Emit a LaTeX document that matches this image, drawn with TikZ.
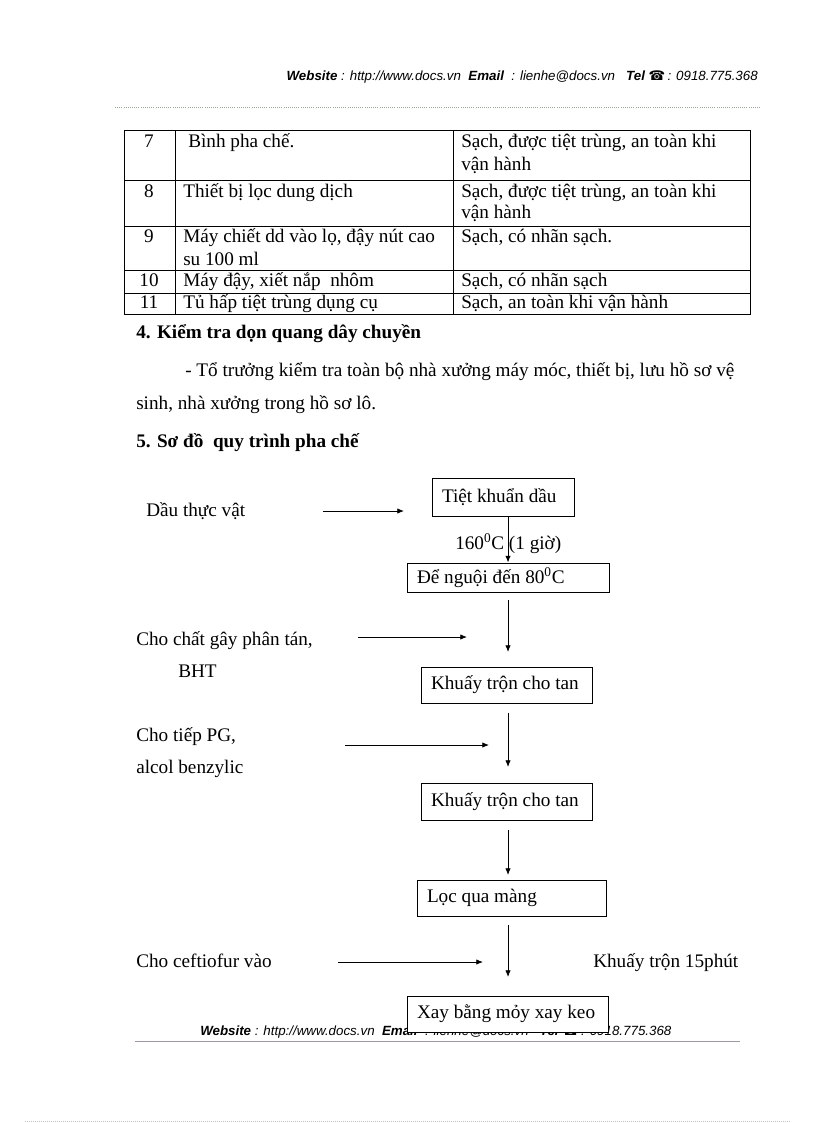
\documentclass[tikz,border=0pt]{standalone}
\usepackage{fontspec}
\setmainfont{Liberation Serif}
\newfontfamily\hdrfont{Liberation Sans}
\newfontfamily\symfont{DejaVu Sans}
\usetikzlibrary{arrows.meta}
\definecolor{rulegreen}{RGB}{150,170,150}
\definecolor{rulegray}{RGB}{160,150,165}
\newcommand{\hdrline}{{\hdrfont\itshape\fontsize{10}{12}\selectfont\textbf{Website} : http://www.docs.vn\ \ \textbf{Email}\ \ : lienhe@docs.vn\ \ \ \textbf{Tel}\ {\symfont\upshape ☎}\,: 0918.775.368}}
\newcommand{\bx}[2]{\makebox[#1][l]{#2}}
\begin{document}
\begin{tikzpicture}[x=0.75pt,y=-0.75pt,
  txt/.style={anchor=base west,inner sep=0pt,font=\fontsize{14.4}{17}\selectfont},
  ctxt/.style={anchor=base,inner sep=0pt,font=\fontsize{14.4}{17}\selectfont},
  btxt/.style={anchor=base west,inner sep=0pt,font=\fontsize{14.4}{17}\selectfont\bfseries},
  grid/.style={line width=0.75pt},
  fbox/.style={draw,fill=white,line width=0.75pt,inner xsep=7.5pt,inner ysep=0pt,font=\fontsize{14.4}{17}\selectfont},
  arr/.style={line width=0.6pt,-{Latex[length=5pt,width=4pt]}}]
\useasboundingbox (0,0) rectangle (816,1123);
\fill[white] (0,0) rectangle (816,1123);

% header
\node[anchor=base east,inner sep=0pt] (hdr) at (758,81) {\hdrline};
\draw[rulegreen,densely dotted,line width=0.6pt] (115,107) -- (760,107);

% table
\draw[grid] (124,131) rectangle (750,314);
\foreach \yy in {181,227,270,293} \draw[grid] (124,\yy) -- (750,\yy);
\draw[grid] (175,131) -- (175,314);
\draw[grid] (453,131) -- (453,314);

\node[ctxt] (n7) at (149,148) {7};
\node[ctxt] (n8) at (149,198) {8};
\node[ctxt] (n9) at (149,243) {9};
\node[ctxt] (n10) at (149,286) {10};
\node[ctxt] (n11) at (149,308) {11};

\node[txt] (c7) at (188,148) {Bình pha chế.};
\node[txt] (c8) at (183,198) {Thiết bị lọc dung dịch};
\node[txt] (c9a) at (183,243) {Máy chiết dd vào lọ, đậy nút cao};
\node[txt] (c9b) at (183,265) {su 100 ml};
\node[txt] (c10) at (183,286) {Máy đậy, xiết nắp\ \ nhôm};
\node[txt] (c11) at (183,308) {Tủ hấp tiệt trùng dụng cụ};

\node[txt] (d7a) at (461,148) {Sạch, được tiệt trùng, an toàn khi};
\node[txt] (d7b) at (461,171) {vận hành};
\node[txt] (d8a) at (461,198) {Sạch, được tiệt trùng, an toàn khi};
\node[txt] (d8b) at (461,219) {vận hành};
\node[txt] (d9) at (461,243) {Sạch, có nhãn sạch.};
\node[txt] (d10) at (461,286) {Sạch, có nhãn sạch};
\node[txt] (d11) at (461,308) {Sạch, an toàn khi vận hành};

% sections
\node[btxt] (h4) at (136,338) {4. Kiểm tra dọn quang dây chuyền};
\node[txt] (p1) at (185,376) {- Tổ trưởng kiểm tra toàn bộ nhà xưởng máy móc, thiết bị, lưu hồ sơ vệ};
\node[txt] (p2) at (136,409) {sinh, nhà xưởng trong hồ sơ lô.};
\node[btxt] (h5) at (136,447) {5. Sơ đồ\ \ quy trình pha chế};

% footer (drawn before last box, which covers it)
\node[anchor=base west,inner sep=0pt] (ftr) at (200,1035) {\hdrline};
\draw[rulegray,line width=0.6pt] (135,1041) -- (740,1041);
\draw[rulegray!60,densely dotted,line width=0.5pt] (25,1121) -- (790,1121);

% flowchart boxes
\node[fbox,minimum height=28.5pt] (b1) at (503,497) {\bx{91.5pt}{Tiệt khuẩn dầu}};
\node[fbox,minimum height=21.75pt] (b2) at (508,577.5) {\bx{136.5pt}{Để nguội đến 80\textsuperscript{0}C}};
\node[fbox,minimum height=27pt] (b3) at (506.5,685) {\bx{113.25pt}{Khuấy trộn cho tan}};
\node[fbox,minimum height=27.75pt] (b4) at (506.5,801.5) {\bx{113.25pt}{Khuấy trộn cho tan}};
\node[fbox,minimum height=27pt] (b5) at (511.5,898) {\bx{126.75pt}{Lọc qua màng}};
\node[fbox,minimum height=27pt] (b6) at (507.5,1014) {\bx{135.75pt}{Xay bằng mỏy xay keo}};

% side texts
\node[txt] (t1) at (146,516) {Dầu thực vật};
\node[txt] (t2) at (136,645) {Cho chất gây phân tán,};
\node[txt] (t3) at (178,677) {BHT};
\node[txt] (t4) at (136,741) {Cho tiếp PG,};
\node[txt] (t5) at (136,773) {alcol benzylic};
\node[txt] (t6) at (136,967) {Cho ceftiofur vào};
\node[txt] (t7) at (593,967) {Khuấy trộn 15phút};
\node[txt] (lab) at (455,549) {160\textsuperscript{0}C (1 giờ)};

% connector coordinates
\coordinate (vx) at (508,0);
\coordinate (h1s) at (323,511); \coordinate (h1e) at (404,511);
\coordinate (h2s) at (358,637); \coordinate (h2e) at (467,637);
\coordinate (h3s) at (345,745); \coordinate (h3e) at (489,745);
\coordinate (h4s) at (338,962); \coordinate (h4e) at (483,962);
\coordinate (v2s) at (508,600); \coordinate (v2e) at (508,652);
\coordinate (v3s) at (508,713); \coordinate (v3e) at (508,767);
\coordinate (v4s) at (508,830); \coordinate (v4e) at (508,875);
\coordinate (v5s) at (508,925); \coordinate (v5e) at (508,977);

% connectors
\draw[arr] (h1s) -- (h1e);
\draw[arr] (h2s) -- (h2e);
\draw[arr] (h3s) -- (h3e);
\draw[arr] (h4s) -- (h4e);
\draw[arr] (b1.south -| vx) -- (b2.north -| vx);
\draw[arr] (v2s) -- (v2e);
\draw[arr] (v3s) -- (v3e);
\draw[arr] (v4s) -- (v4e);
\draw[arr] (v5s) -- (v5e);
\end{tikzpicture}
\end{document}
